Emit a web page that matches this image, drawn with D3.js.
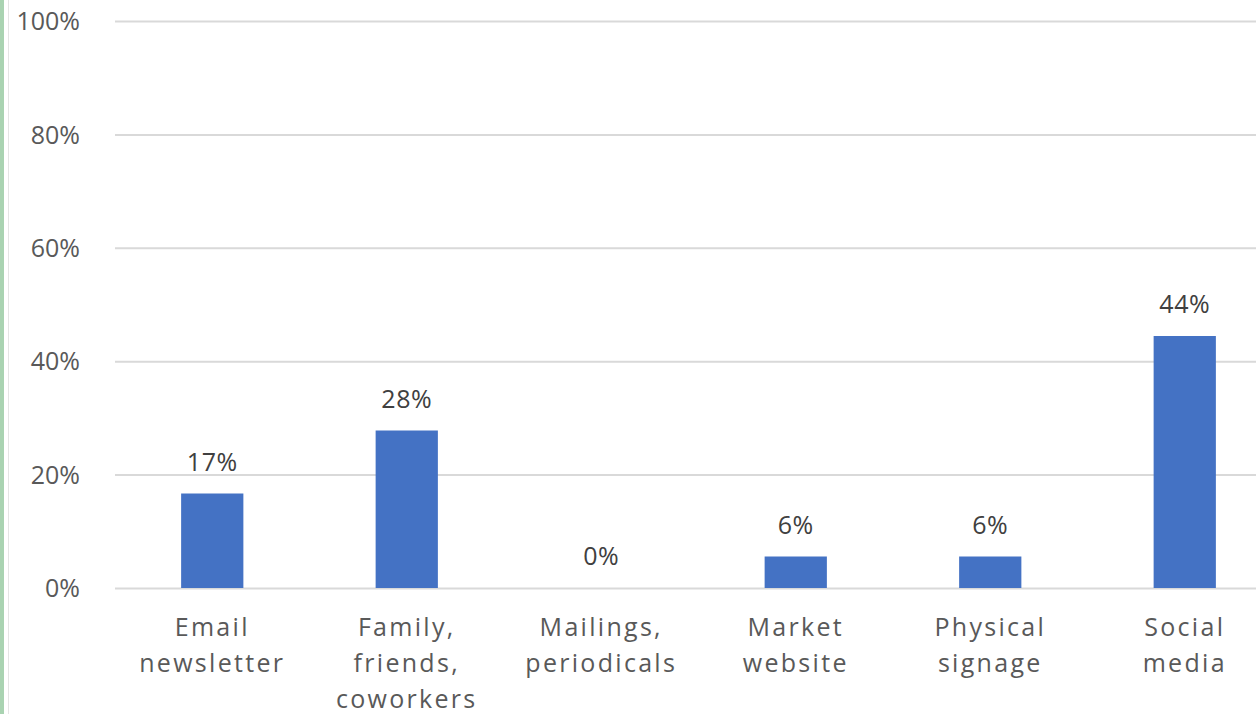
<!DOCTYPE html>
<html>
<head>
<meta charset="utf-8">
<script src="https://cdn.jsdelivr.net/npm/d3@7"></script>
<style>
  html, body { margin: 0; padding: 0; background: #fff; overflow: hidden; }
  svg { display: block; font-family: 'Open Sans', sans-serif; }
</style>
</head>
<body>
<div id="chart"></div>
<script>
'use strict'

// share of respondents per channel (18 answers)
const categories = [
	['Email', 'newsletter'],
	['Family,', 'friends,', 'coworkers'],
	['Mailings,', 'periodicals'],
	['Market', 'website'],
	['Physical', 'signage'],
	['Social', 'media']
]
const values = [3 / 18, 5 / 18, 0, 1 / 18, 1 / 18, 8 / 18]
const yTicks = [0, 0.2, 0.4, 0.6, 0.8, 1]

const width = 1256,
		height = 714
const margin = { top: 21, left: 115, bottom: 126 }
const plotRight = 1282

const svg = d3.select('#chart').append('svg')
	.attr('width', width)
	.attr('height', height)

// left frame edge from the original screenshot
svg.append('rect')
	.attr('x', 0).attr('y', 0)
	.attr('width', 4).attr('height', height)
	.attr('fill', '#a9d3b1')
svg.append('line')
	.attr('x1', 8.5).attr('x2', 8.5)
	.attr('y1', 0).attr('y2', height)
	.attr('stroke', '#e4e4e4')
	.attr('stroke-width', 1)

const x = d3.scaleBand()
	.domain(d3.range(categories.length))
	.range([margin.left, plotRight])
	.paddingInner(0.68)
	.paddingOuter(0.34)

const y = d3.scaleLinear()
	.domain([0, 1])
	.range([height - margin.bottom, margin.top])

const pct = d3.format('.0%')

// gridlines + y labels
const yAxis = svg.append('g')
	.attr('transform', `translate(${margin.left},0)`)
	.call(d3.axisLeft(y).tickValues(yTicks).tickFormat(pct)
		.tickSize(-(plotRight - margin.left)).tickPadding(35))
yAxis.select('.domain').remove()
yAxis.selectAll('.tick line')
	.attr('stroke', '#d9d9d9')
	.attr('stroke-width', 2)
yAxis.selectAll('.tick text')
	.attr('fill', '#595959')
	.attr('font-size', 25)
	.attr('font-family', "'Open Sans', sans-serif")
	.attr('dy', '0.35em')

// bars
svg.append('g')
	.selectAll('rect')
	.data(values)
	.enter().append('rect')
	.attr('x', (d, i) => x(i))
	.attr('y', d => y(d))
	.attr('width', x.bandwidth())
	.attr('height', d => y(0) - y(d))
	.attr('fill', '#4472c4')

// value labels
svg.append('g')
	.selectAll('text')
	.data(values)
	.enter().append('text')
	.attr('x', (d, i) => x(i) + x.bandwidth() / 2)
	.attr('y', d => y(d) - 23)
	.attr('text-anchor', 'middle')
	.attr('font-size', 25)
	.attr('letter-spacing', 0.5)
	.attr('fill', '#404040')
	.text(d => pct(d))

// category labels
const cat = svg.append('g')
	.selectAll('text')
	.data(categories)
	.enter().append('text')
	.attr('text-anchor', 'middle')
	.attr('font-size', 25)
	.attr('letter-spacing', 2.3)
	.attr('fill', '#595959')
	.attr('transform', (d, i) => `translate(${x(i) + x.bandwidth() / 2},${y(0) + 48})`)

cat.selectAll('tspan')
	.data(d => d)
	.enter().append('tspan')
	.attr('x', 0)
	.attr('y', (d, i) => i * 36)
	.text(d => d)
</script>
</body>
</html>
